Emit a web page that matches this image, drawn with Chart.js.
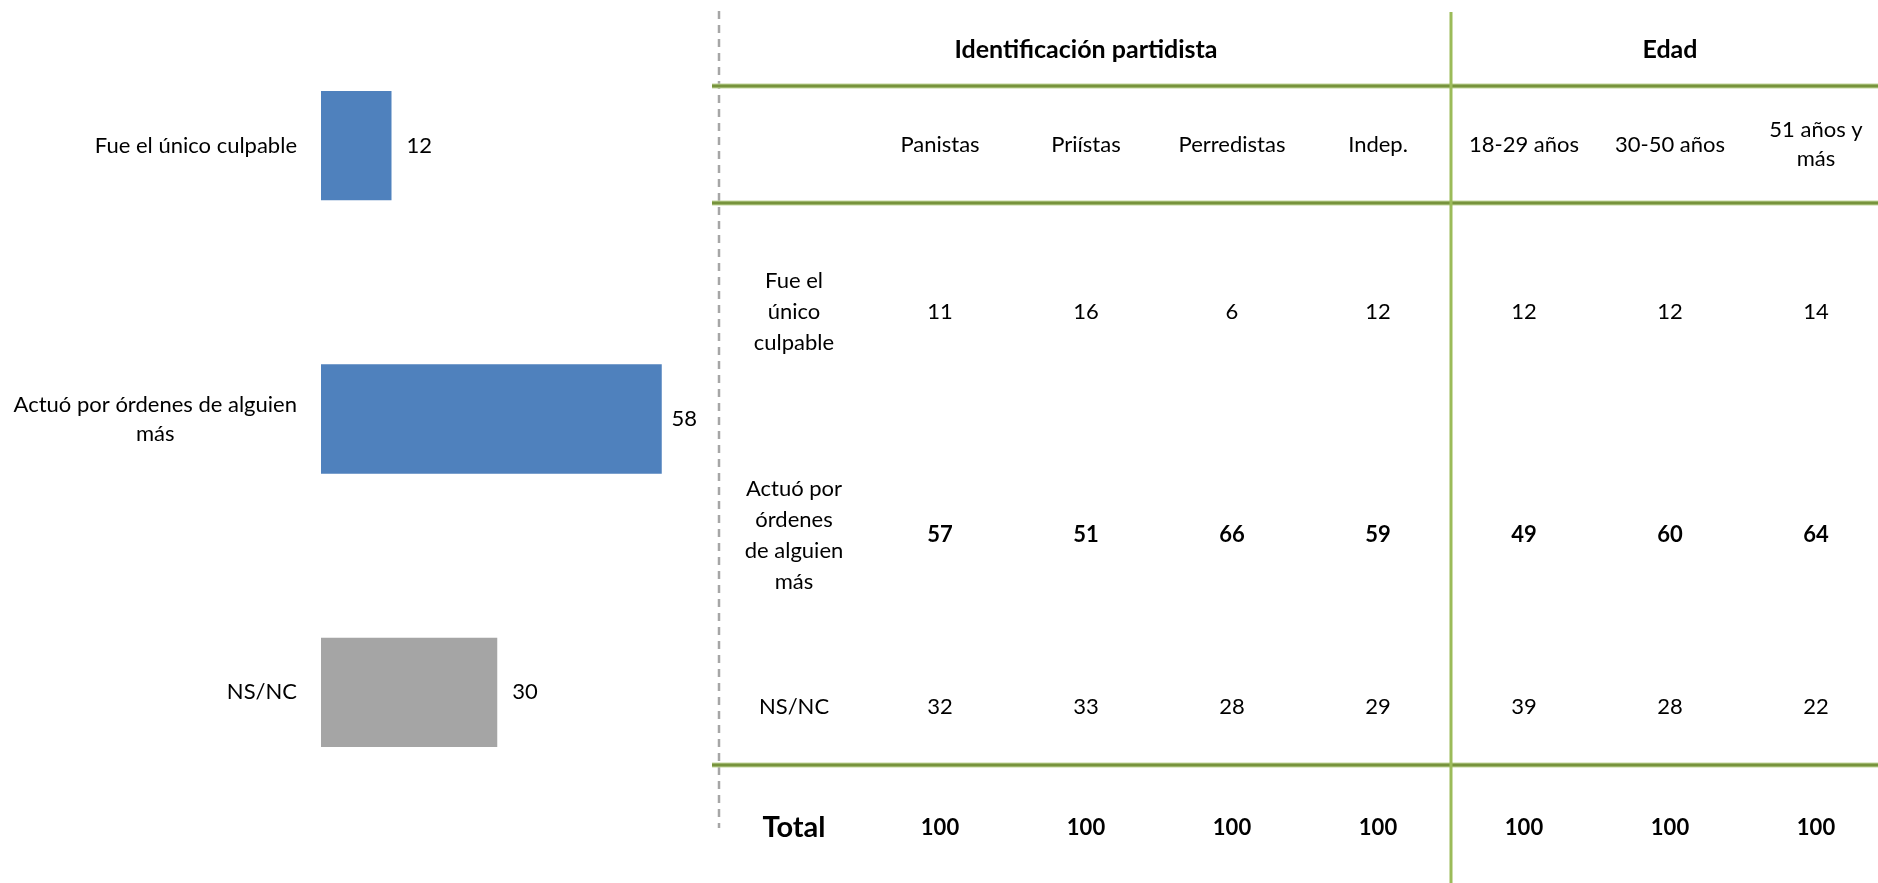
<!DOCTYPE html>
<html>
<head>
<meta charset="utf-8">
<script src="https://cdn.jsdelivr.net/npm/chart.js@4.4.1/dist/chart.umd.min.js"></script>
<style>
  html, body { margin: 0; padding: 0; background: #fff; width: 1878px; height: 883px; overflow: hidden; }
  #left { position: absolute; left: 0; top: 0; width: 718px; height: 883px; }
  #right { position: absolute; left: 700px; top: 0; width: 1189px; height: 891px; }
</style>
</head>
<body>
<div id="left"><canvas id="barChart"></canvas></div>
<div id="right"><canvas id="tableChart"></canvas></div>
<script>
// Bar chart data
const categories = [['Fue el único culpable'], ['Actuó por órdenes de alguien', 'más'], ['NS/NC']];
const totals = [12, 58, 30];
const barColors = ['#4F81BD', '#4F81BD', '#A5A5A5'];

// Table data
const groupTitles = ['Identificación partidista', 'Edad'];
const groupSizes = [4, 3];
const columns = [['Panistas'], ['Priístas'], ['Perredistas'], ['Indep.'], ['18-29 años'], ['30-50 años'], ['51 años y', 'más']];
const rowLabels = [['Fue el', 'único', 'culpable'], ['Actuó por', 'órdenes', 'de alguien', 'más'], ['NS/NC']];
const unicoCulpable = [11, 16, 6, 12, 12, 12, 14];
const ordenesDeAlguien = [57, 51, 66, 59, 49, 60, 64];
const nsnc = [32, 33, 28, 29, 39, 28, 22];
const totalLabel = 'Total';
const totalRow = [100, 100, 100, 100, 100, 100, 100];

const rows = [unicoCulpable, ordenesDeAlguien, nsnc];
const boldRow = 1;

// table layout (relative row heights: title, header, 3 rows, total)
const rowBands = [74, 117, 218, 228, 116, 126];

Chart.defaults.font.family = 'Lato';
Chart.defaults.color = '#000';

function drawLines(ctx, lines, x, y, lineHeight) {
    const start = y - (lines.length - 1) * lineHeight / 2;
    lines.forEach((line, i) => ctx.fillText(line, x, start + i * lineHeight));
}

// Left bar chart
const barLabels = {
    id: 'barLabels',
    afterDatasetsDraw(chart) {
        const ctx = chart.ctx;
        const yScale = chart.scales.y;
        const area = chart.chartArea;
        ctx.save();
        ctx.fillStyle = '#000';
        ctx.font = '22px Lato';
        ctx.textBaseline = 'middle';

        // category labels, block right aligned, lines centered
        ctx.textAlign = 'center';
        categories.forEach((lines, i) => {
            const w = Math.max(...lines.map(l => ctx.measureText(l).width));
            const right = area.left - 24;
            drawLines(ctx, lines, right - w / 2, yScale.getPixelForValue(i), 29);
        });

        // value labels
        ctx.textAlign = 'left';
        chart.getDatasetMeta(0).data.forEach((bar, i) => {
            const text = String(totals[i]);
            const w = ctx.measureText(text).width;
            const x = Math.min(bar.x + 15, area.right - w);
            ctx.fillText(text, x, bar.y);
        });
        ctx.restore();
    }
};

new Chart(document.getElementById('barChart'), {
    type: 'bar',
    data: {
        labels: categories,
        datasets: [{
            data: totals,
            backgroundColor: barColors,
            borderWidth: 0,
            barPercentage: 0.8,
            categoryPercentage: 0.5
        }]
    },
    options: {
        indexAxis: 'y',
        responsive: true,
        maintainAspectRatio: false,
        animation: false,
        layout: { padding: { left: 321, right: 21, top: 9, bottom: 54 } },
        plugins: { legend: { display: false }, tooltip: { enabled: false } },
        scales: {
            x: { display: false, min: 0, max: 64 },
            y: { display: false }
        }
    },
    plugins: [barLabels]
});

// Right table chart
const bandEdges = [0];
rowBands.forEach(h => bandEdges.push(bandEdges[bandEdges.length - 1] + h));
const bandCenter = i => (bandEdges[i] + bandEdges[i + 1]) / 2;

const tableDraw = {
    id: 'tableDraw',
    afterDraw(chart) {
        const ctx = chart.ctx;
        const x = chart.scales.x;
        const y = chart.scales.y;
        const area = chart.chartArea;
        const colX = i => x.getPixelForValue(i);
        const half = (colX(1) - colX(0)) / 2;
        ctx.save();

        // dashed separator
        ctx.strokeStyle = '#A6A6A6';
        ctx.lineWidth = 2.5;
        ctx.setLineDash([8, 6]);
        ctx.beginPath();
        ctx.moveTo(area.left - 2, area.top - 1);
        ctx.lineTo(area.left - 2, y.getPixelForValue(bandCenter(5)));
        ctx.stroke();
        ctx.setLineDash([]);

        // green horizontal rules
        [1, 2, 5].forEach(b => {
            const py = y.getPixelForValue(bandEdges[b]);
            ctx.strokeStyle = '#C3D69B';
            ctx.lineWidth = 5;
            ctx.beginPath();
            ctx.moveTo(area.left - 9, py);
            ctx.lineTo(area.right, py);
            ctx.stroke();
            ctx.strokeStyle = '#77933C';
            ctx.lineWidth = 3;
            ctx.beginPath();
            ctx.moveTo(area.left - 9, py);
            ctx.lineTo(area.right, py);
            ctx.stroke();
        });

        // green vertical rule between groups
        const vx = colX(groupSizes[0]) + half;
        ctx.strokeStyle = '#9BBB59';
        ctx.lineWidth = 3;
        ctx.beginPath();
        ctx.moveTo(vx, area.top);
        ctx.lineTo(vx, area.bottom);
        ctx.stroke();

        ctx.fillStyle = '#000';
        ctx.textAlign = 'center';
        ctx.textBaseline = 'middle';

        // group titles
        ctx.font = 'bold 25px Lato';
        let start = 0;
        groupTitles.forEach((title, g) => {
            const first = g === 0 ? 0 : start + 1;
            const last = start + groupSizes[g];
            ctx.fillText(title, (colX(first) + colX(last)) / 2, y.getPixelForValue(bandCenter(0)) + 1);
            start = last;
        });

        // column headers
        ctx.font = '22px Lato';
        columns.forEach((lines, i) => {
            drawLines(ctx, lines, colX(i + 1), y.getPixelForValue(bandCenter(1)), 29);
        });

        // body rows
        rows.forEach((values, r) => {
            const py = y.getPixelForValue(bandCenter(r + 2));
            ctx.font = '22px Lato';
            drawLines(ctx, rowLabels[r], colX(0), py, 31);
            ctx.font = (r === boldRow ? 'bold ' : '') + '22px Lato';
            values.forEach((v, i) => ctx.fillText(String(v), colX(i + 1), py));
        });

        // total row
        const ty = y.getPixelForValue(bandCenter(5));
        ctx.font = 'bold 29px Lato';
        ctx.fillText(totalLabel, colX(0), ty);
        ctx.font = 'bold 22px Lato';
        totalRow.forEach((v, i) => ctx.fillText(String(v), colX(i + 1), ty));

        ctx.restore();
    }
};

new Chart(document.getElementById('tableChart'), {
    type: 'bar',
    data: {
        labels: ['', ...columns],
        datasets: []
    },
    options: {
        responsive: true,
        maintainAspectRatio: false,
        animation: false,
        layout: { padding: { left: 21, right: 0, top: 12, bottom: 0 } },
        plugins: { legend: { display: false }, tooltip: { enabled: false } },
        scales: {
            x: { display: false, offset: true },
            y: { display: false, reverse: true, min: 0, max: bandEdges[bandEdges.length - 1] }
        }
    },
    plugins: [tableDraw]
});
</script>
</body>
</html>
